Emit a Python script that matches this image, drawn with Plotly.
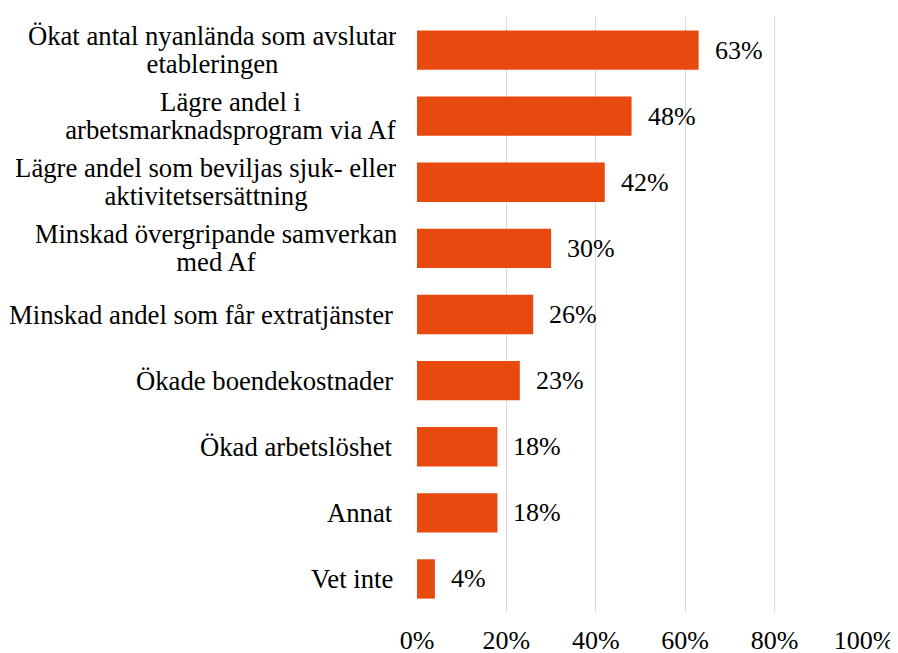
import plotly.graph_objects as go

categories = [
    "Ökat antal nyanlända som avslutar<br>etableringen",
    "Lägre andel i<br>arbetsmarknadsprogram via Af",
    "Lägre andel som beviljas sjuk- eller<br>aktivitetsersättning",
    "Minskad övergripande samverkan<br>med Af",
    "Minskad andel som får extratjänster",
    "Ökade boendekostnader",
    "Ökad arbetslöshet",
    "Annat",
    "Vet inte",
]
values = [63, 48, 42, 30, 26, 23, 18, 18, 4]
tick_vals = [0, 20, 40, 60, 80, 100]
tick_text = ["0%", "20%", "40%", "60%", "80%", "100%"]

FONT = "Liberation Serif"
SIZE = 26
LABEL_SIZE = 26.7
COLOR = "#E8490F"
# pixel widths of the widest line of each wrapped label (layout only)
LABEL_BOX_W = {0: 367, 1: 331, 2: 380, 3: 360}
LINE_GAP = 14

fig = go.Figure(go.Bar(
    x=values,
    y=categories,
    orientation="h",
    marker=dict(color=COLOR, line=dict(width=0)),
    width=0.595,
    hoverinfo="skip",
))

annotations = []
for i, (c, v) in enumerate(zip(categories, values)):
    annotations.append(dict(
        x=v, y=c, xref="x", yref="y", text=f"{v}%", showarrow=False,
        xanchor="left", xshift=14, font=dict(family=FONT, size=SIZE, color="#000"),
    ))
    lines = c.split("<br>")
    if len(lines) == 1:
        annotations.append(dict(
            x=0, y=c, xref="paper", yref="y", text=c, showarrow=False,
            xanchor="right", xshift=-22, align="center",
            font=dict(family=FONT, size=LABEL_SIZE, color="#000"),
        ))
    else:
        n = len(lines)
        for k, ln in enumerate(lines):
            annotations.append(dict(
                x=0, y=c, xref="paper", yref="y", text=ln, showarrow=False,
                xanchor="right", xshift=-19, align="center",
                width=LABEL_BOX_W[i],
                yshift=LINE_GAP * (n - 1) - 2 * LINE_GAP * k,
                font=dict(family=FONT, size=LABEL_SIZE, color="#000"),
            ))

fig.update_layout(
    width=890, height=645,
    margin=dict(l=409, r=34, t=9, b=41),
    paper_bgcolor="white", plot_bgcolor="white",
    showlegend=False,
    font=dict(family=FONT, size=SIZE, color="#000"),
    xaxis=dict(
        range=[0, 100], tickvals=tick_vals, ticktext=tick_text,
        showgrid=True, gridcolor="#d9d9d9", gridwidth=1.3,
        zeroline=False, showline=False, automargin=False,
        ticks="outside", ticklen=5, tickcolor="rgba(0,0,0,0)",
        tickfont=dict(family=FONT, size=SIZE, color="#000"),
        fixedrange=True,
    ),
    yaxis=dict(
        categoryorder="array", categoryarray=categories[::-1],
        showticklabels=False, showgrid=False, zeroline=False, showline=False,
        automargin=False, fixedrange=True,
    ),
    annotations=annotations,
)

fig.write_html("out.html")
